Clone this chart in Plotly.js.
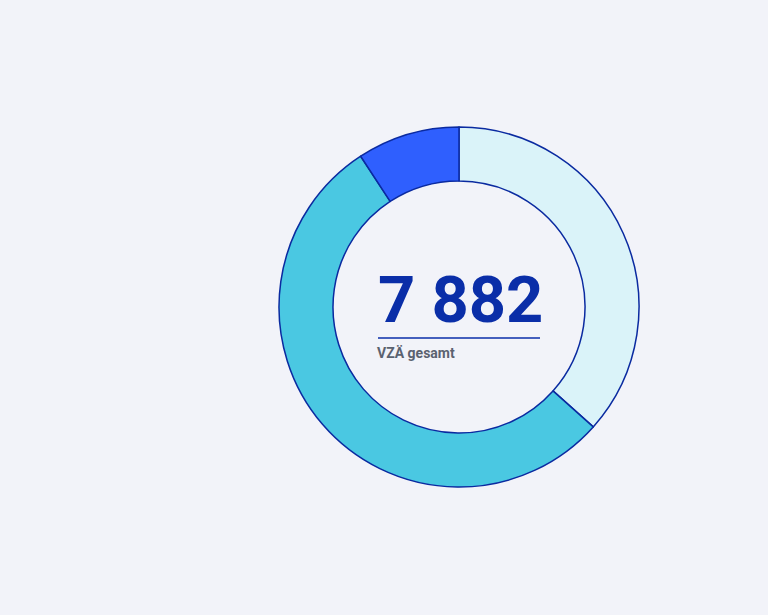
<!DOCTYPE html>
<html>
<head>
<meta charset="utf-8">
<script src="https://cdn.plot.ly/plotly-3.0.1.min.js"></script>
<style>
html,body{margin:0;padding:0;background:#f2f3f9;}
#chart{width:768px;height:615px;}
</style>
</head>
<body>
<div id="chart"></div>
<script>
const categories = ["Kategorie A", "Kategorie B", "Kategorie C"];
const values = [2885, 4272, 725];
const sliceColors = ["#daf3f9", "#4ac8e2", "#2f5ffe"];
const totalLabel = "7 882";
const subLabel = "VZÄ gesamt";

const W = 768, H = 615;
const cx = 459, cy = 307, R = 180;

const trace = {
  type: "pie",
  labels: categories,
  values: values,
  sort: false,
  direction: "clockwise",
  rotation: 0,
  hole: 0.7,
  textinfo: "none",
  hoverinfo: "label+value",
  marker: { colors: sliceColors, line: { color: "#0a2aa0", width: 1.5 } },
  domain: { x: [(cx - R) / W, (cx + R) / W], y: [(H - cy - R) / H, (H - cy + R) / H] },
  showlegend: false
};

const layout = {
  width: W, height: H,
  margin: { l: 0, r: 0, t: 0, b: 0 },
  paper_bgcolor: "#f2f3f9",
  plot_bgcolor: "#f2f3f9",
  showlegend: false,
  annotations: [
    { text: totalLabel, x: 376 / W, y: (H - 300) / H, xref: "paper", yref: "paper",
      xanchor: "left", yanchor: "middle", showarrow: false,
      font: { family: "Roboto, sans-serif", size: 65, color: "#0a2ea8", weight: 700 } },
    { text: subLabel, x: 375 / W, y: (H - 353) / H, xref: "paper", yref: "paper",
      xanchor: "left", yanchor: "middle", showarrow: false,
      font: { family: "Roboto, sans-serif", size: 14, color: "#5b6270", weight: 700 } }
  ],
  shapes: [
    { type: "line", xref: "paper", yref: "paper", x0: 378 / W, x1: 540 / W,
      y0: (H - 338) / H, y1: (H - 338) / H, line: { color: "#0a2ea8", width: 1.5 } }
  ]
};

Plotly.newPlot("chart", [trace], layout, { displayModeBar: false, staticPlot: true });
</script>
</body>
</html>
